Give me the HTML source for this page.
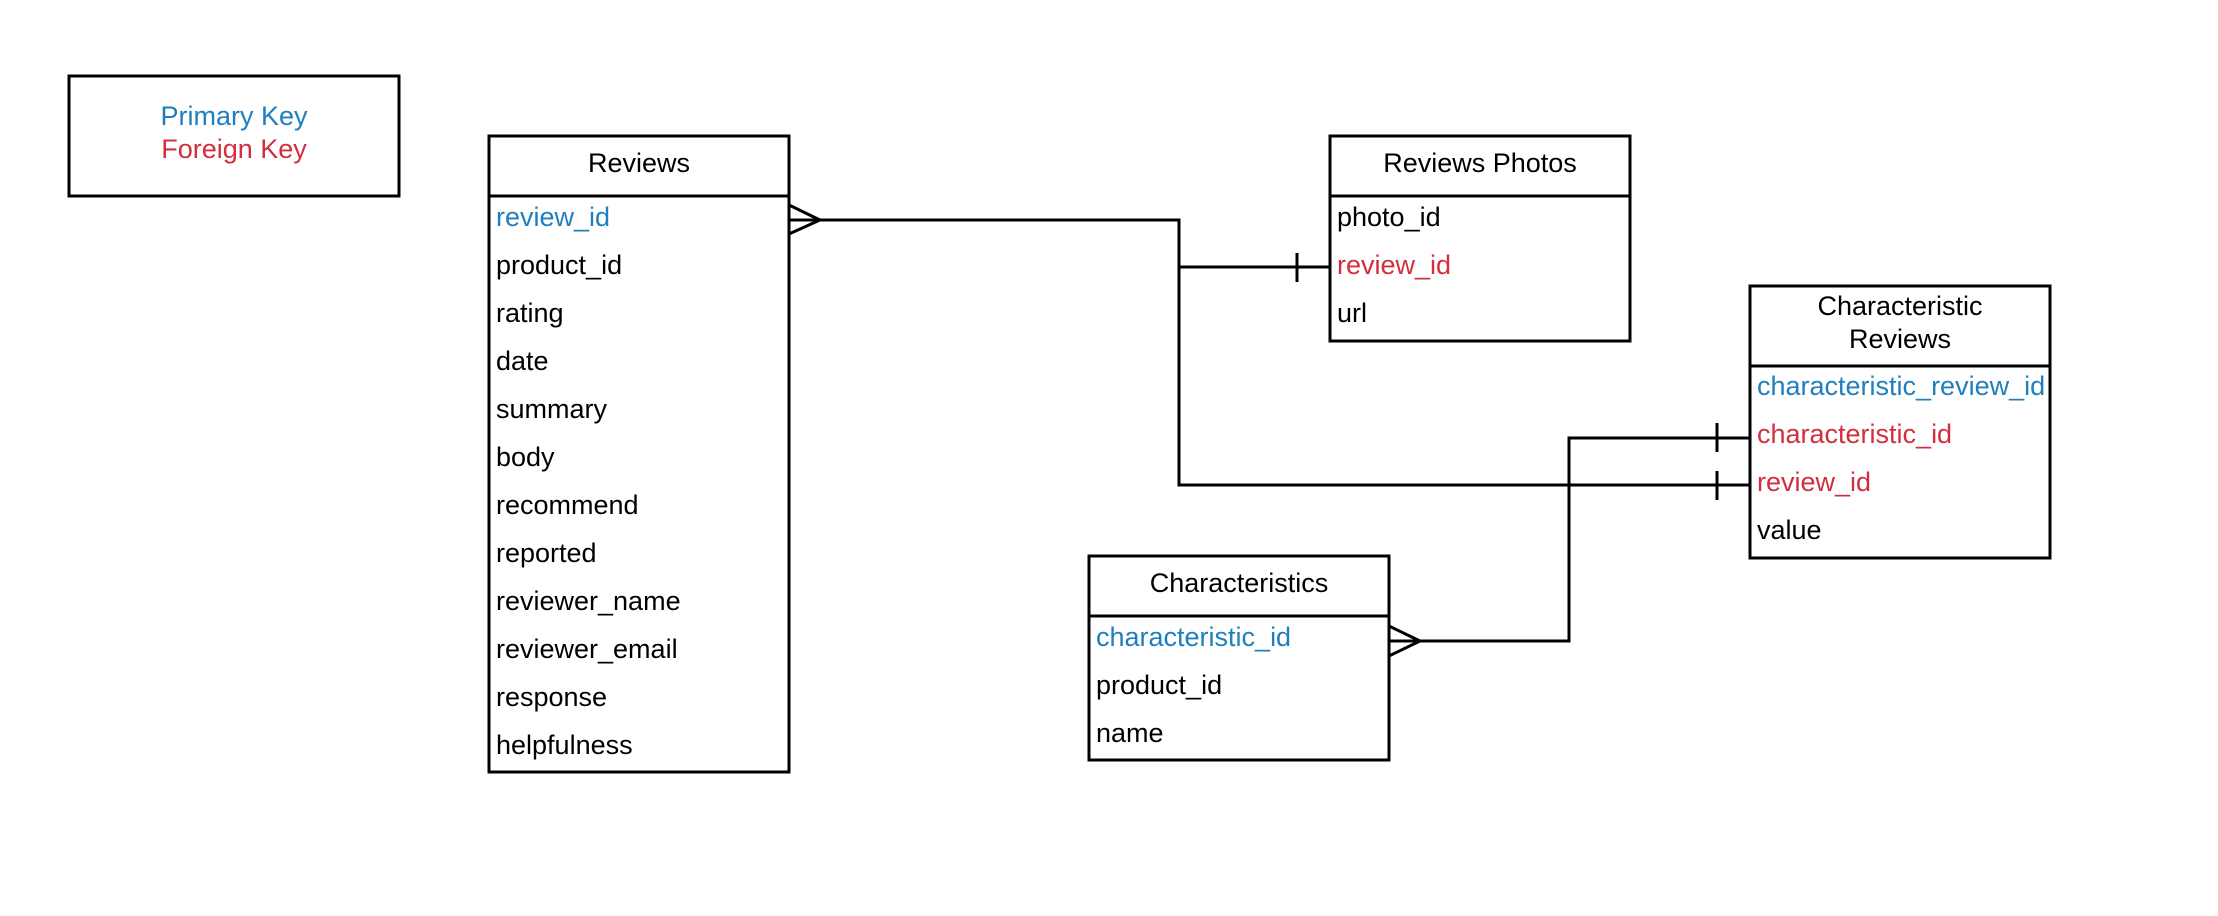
<!DOCTYPE html>
<html><head><meta charset="utf-8"><style>
html,body{margin:0;padding:0;background:#fff;}
svg{display:block;}
text{font-family:"Liberation Sans",sans-serif;font-size:27px;}
</style></head><body>
<svg width="2218" height="916" viewBox="0 0 2218 916" xmlns="http://www.w3.org/2000/svg">
<rect x="0" y="0" width="2218" height="916" fill="#fff"/>
<g fill="none" stroke="#000" stroke-width="3">
<rect x="69" y="76" width="330" height="120"/>
<rect x="489" y="136" width="300" height="636"/>
<line x1="489" y1="196" x2="789" y2="196"/>
<rect x="1330" y="136" width="300" height="205"/>
<line x1="1330" y1="196" x2="1630" y2="196"/>
<rect x="1750" y="286" width="300" height="272"/>
<line x1="1750" y1="366" x2="2050" y2="366"/>
<rect x="1089" y="556" width="300" height="204"/>
<line x1="1089" y1="616" x2="1389" y2="616"/>
<!-- connectors -->
<polyline points="789,220 1179,220 1179,485 1750,485"/>
<line x1="1179" y1="267" x2="1330" y2="267"/>
<line x1="1297" y1="253" x2="1297" y2="282"/>
<polyline points="789,205 820,220 789,234"/>
<line x1="1717" y1="423" x2="1717" y2="452"/>
<line x1="1717" y1="471" x2="1717" y2="500"/>
<polyline points="1389,641 1569,641 1569,438 1750,438"/>
<polyline points="1389,626 1420,641 1389,656"/>
</g>
<g text-anchor="middle">
<text x="234" y="125" fill="#1f7fbd">Primary Key</text>
<text x="234" y="158" fill="#d12f3e">Foreign Key</text>
<text x="639" y="172">Reviews</text>
<text x="1480" y="172">Reviews Photos</text>
<text x="1900" y="315">Characteristic</text>
<text x="1900" y="348">Reviews</text>
<text x="1239" y="592">Characteristics</text>
</g>
<g>
<text x="496" y="226" fill="#1f7fbd">review_id</text>
<text x="496" y="274">product_id</text>
<text x="496" y="322">rating</text>
<text x="496" y="370">date</text>
<text x="496" y="418">summary</text>
<text x="496" y="466">body</text>
<text x="496" y="514">recommend</text>
<text x="496" y="562">reported</text>
<text x="496" y="610">reviewer_name</text>
<text x="496" y="658">reviewer_email</text>
<text x="496" y="706">response</text>
<text x="496" y="754">helpfulness</text>

<text x="1337" y="226">photo_id</text>
<text x="1337" y="274" fill="#d12f3e">review_id</text>
<text x="1337" y="322">url</text>

<text x="1757" y="395" fill="#1f7fbd">characteristic_review_id</text>
<text x="1757" y="443" fill="#d12f3e">characteristic_id</text>
<text x="1757" y="491" fill="#d12f3e">review_id</text>
<text x="1757" y="539">value</text>

<text x="1096" y="646" fill="#1f7fbd">characteristic_id</text>
<text x="1096" y="694">product_id</text>
<text x="1096" y="742">name</text>
</g>
</svg>
</body></html>
